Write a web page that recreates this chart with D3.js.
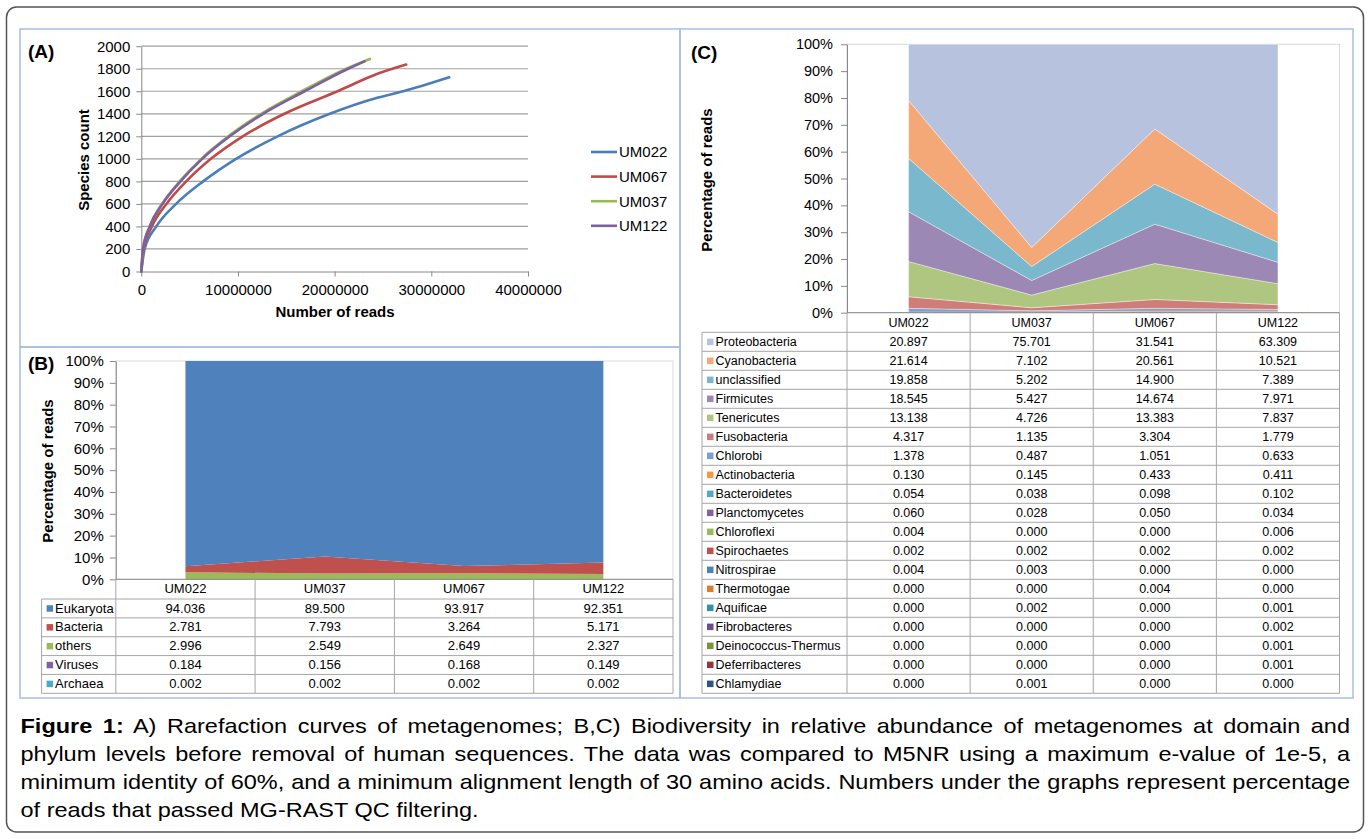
<!DOCTYPE html>
<html lang="en">
<head>
<meta charset="UTF-8">
<title>Figure 1</title>
<script src="https://cdn.jsdelivr.net/npm/d3@7"></script>
<style>
	body { margin: 0; background: #fff; }
	svg text { font-family: "Liberation Sans", Arial, sans-serif; fill: #000; }
	.axis path, .axis line { stroke: #888; }
	.axis text { fill: #000; }
</style>
</head>
<body>
<svg id="fig" width="1370" height="839"></svg>
<script>
// ---- panel A: rarefaction curves (reads, species count) ----
const rareSamples = ['UM022', 'UM067', 'UM037', 'UM122'];
const um022Reads = [0, 0.34e6, 1.55e6, 3.6e6, 6.4e6, 9.8e6, 14.1e6, 19.5e6, 24.5e6, 27.1e6, 31.85e6];
const um022Species = [0, 200, 400, 600, 800, 1000, 1200, 1400, 1544, 1600, 1724];
const um067Reads = [0, 0.24e6, 1.1e6, 2.6e6, 4.65e6, 7.2e6, 10.5e6, 14.8e6, 20.3e6, 24.5e6, 27.4e6];
const um067Species = [0, 200, 400, 600, 800, 1000, 1200, 1400, 1600, 1757, 1837];
const um037Reads = [0, 0.17e6, 0.86e6, 2.14e6, 3.97e6, 6.2e6, 9.0e6, 12.4e6, 16.6e6, 21.2e6, 23.65e6];
const um037Species = [0, 200, 400, 600, 800, 1000, 1200, 1400, 1600, 1800, 1887];
const um122Reads = [0, 0.18e6, 0.88e6, 2.2e6, 4.05e6, 6.3e6, 9.15e6, 12.6e6, 16.9e6, 21.4e6, 23.1e6];
const um122Species = [0, 200, 400, 600, 800, 1000, 1200, 1400, 1600, 1800, 1865];
const speciesTicks = [0, 200, 400, 600, 800, 1000, 1200, 1400, 1600, 1800, 2000];
const readTicks = [0, 10000000, 20000000, 30000000, 40000000];

// ---- panel B: domain level ----
const samples = ['UM022', 'UM037', 'UM067', 'UM122'];
const domains = ['Eukaryota', 'Bacteria', 'others', 'Viruses', 'Archaea'];
const eukaryota = [94.036, 89.500, 93.917, 92.351];
const bacteria = [2.781, 7.793, 3.264, 5.171];
const others = [2.996, 2.549, 2.649, 2.327];
const viruses = [0.184, 0.156, 0.168, 0.149];
const archaea = [0.002, 0.002, 0.002, 0.002];
const pctTicks = [0, 10, 20, 30, 40, 50, 60, 70, 80, 90, 100];

// ---- panel C: phylum level ----
const phyla = ['Proteobacteria', 'Cyanobacteria', 'unclassified', 'Firmicutes', 'Tenericutes',
	'Fusobacteria', 'Chlorobi', 'Actinobacteria', 'Bacteroidetes', 'Planctomycetes', 'Chloroflexi',
	'Spirochaetes', 'Nitrospirae', 'Thermotogae', 'Aquificae', 'Fibrobacteres',
	'Deinococcus-Thermus', 'Deferribacteres', 'Chlamydiae'];
const phylaUM022 = [20.897, 21.614, 19.858, 18.545, 13.138, 4.317, 1.378, 0.130, 0.054, 0.060, 0.004, 0.002, 0.004, 0.000, 0.000, 0.000, 0.000, 0.000, 0.000];
const phylaUM037 = [75.701, 7.102, 5.202, 5.427, 4.726, 1.135, 0.487, 0.145, 0.038, 0.028, 0.000, 0.002, 0.003, 0.000, 0.002, 0.000, 0.000, 0.000, 0.001];
const phylaUM067 = [31.541, 20.561, 14.900, 14.674, 13.383, 3.304, 1.051, 0.433, 0.098, 0.050, 0.000, 0.002, 0.000, 0.004, 0.000, 0.000, 0.000, 0.000, 0.000];
const phylaUM122 = [63.309, 10.521, 7.389, 7.971, 7.837, 1.779, 0.633, 0.411, 0.102, 0.034, 0.006, 0.002, 0.000, 0.000, 0.001, 0.002, 0.001, 0.001, 0.000];

const lineColors = ['#4a7ebb', '#be4b48', '#98b954', '#7d60a0'];
const domainColors = ['#4f81bd', '#c0504d', '#9bbb59', '#8064a2', '#4bacc6'];
const phylaArea = ['#b7c3de', '#f5a877', '#7ab8cd', '#9c88b4', '#afc680', '#d07c79', '#7c9fd1',
	'#f79646', '#4bacc6', '#8064a2', '#9bbb59', '#c0504d', '#4f81bd', '#e07c2c', '#2f94a8',
	'#6b4e8f', '#77933c', '#943634', '#2c5585'];

const svg = d3.select('#fig');
const grid = '#a0a0a0', tableLine = '#a6a6a6', frameBlue = '#a7bfdf';

// outer border and panel frames
svg.append('rect').attr('x', 6.5).attr('y', 7).attr('width', 1357).attr('height', 825)
	.attr('rx', 10).attr('fill', 'none').attr('stroke', '#555').attr('stroke-width', 1.5);
[[20, 29, 660, 318], [20, 347, 660, 351], [680, 29, 673, 669]].forEach(f => {
	svg.append('rect').attr('x', f[0]).attr('y', f[1]).attr('width', f[2]).attr('height', f[3])
		.attr('fill', 'none').attr('stroke', frameBlue).attr('stroke-width', 1.5);
});

function label(txt, x, y, size, weight) {
	return svg.append('text').attr('x', x).attr('y', y).style('font-size', size + 'px')
		.style('font-weight', weight || 'normal').text(txt);
}

// =========== A ===========
{
	const x = d3.scaleLinear().domain([0, 40000000]).range([141.3, 528]);
	const y = d3.scaleLinear().domain([0, 2000]).range([271.5, 46.2]);
	const g = svg.append('g');

	g.selectAll('.grid').data(speciesTicks.slice(1)).enter().append('line')
		.attr('x1', x(0)).attr('x2', x(40000000))
		.attr('y1', d => y(d)).attr('y2', d => y(d))
		.attr('stroke', grid).attr('stroke-width', 1.2);

	g.append('g').attr('class', 'axis').attr('transform', `translate(${x(0)},0)`)
		.call(d3.axisLeft(y).tickValues(speciesTicks).tickFormat(d3.format('d')).tickSize(5).tickSizeOuter(0).tickPadding(6));
	g.append('g').attr('class', 'axis').attr('transform', `translate(0,${y(0)})`)
		.call(d3.axisBottom(x).tickValues(readTicks).tickFormat(d3.format('d')).tickSize(5).tickSizeOuter(0).tickPadding(8));
	g.selectAll('.axis text').style('font-size', '15px');

	const series = [
		[um022Reads, um022Species], [um067Reads, um067Species],
		[um037Reads, um037Species], [um122Reads, um122Species]
	];
	const line = d3.line().x(d => x(d[0])).y(d => y(d[1])).curve(d3.curveMonotoneX);
	series.forEach((s, i) => {
		const pts = s[0].map((r, j) => [r, s[1][j]]);
		g.append('path').datum(pts).attr('d', line).attr('fill', 'none')
			.attr('stroke', lineColors[i]).attr('stroke-width', 2.6).attr('stroke-linecap', 'round');
	});

	// legend
	rareSamples.forEach((s, i) => {
		const ly = 152 + i * 24.6;
		g.append('line').attr('x1', 591).attr('x2', 617).attr('y1', ly).attr('y2', ly)
			.attr('stroke', lineColors[i]).attr('stroke-width', 2.6);
		g.append('text').attr('x', 619).attr('y', ly).attr('dy', '0.36em').style('font-size', '15px').text(s);
	});

	label('(A)', 28, 58, 19, 'bold');
	label('Species count', 0, 0, 15, 'bold').attr('text-anchor', 'middle')
		.attr('transform', 'translate(88.5,160) rotate(-90)');
	label('Number of reads', 335, 317, 15, 'bold').attr('text-anchor', 'middle');
}

// shared drawing for stacked area + data table
function stackPanel(opt) {
	const x = d3.scaleBand().domain(samples).range([opt.left, opt.right]);
	const y = d3.scaleLinear().domain([0, 100]).range([opt.bottom, opt.top]);
	const g = svg.append('g');
	// per-sample records for the stack
	const recs = samples.map((s, j) => {
		const o = { sample: s };
		opt.names.forEach((n, i) => { o[n] = opt.values[j][i]; });
		return o;
	});
	// first series on top, so stack from the end of the list
	const layers = d3.stack().keys(opt.names.slice().reverse())(recs);
	const cx = s => x(s) + x.bandwidth() / 2;
	const area = d3.area().x(d => cx(d.data.sample)).y0(d => y(d[0])).y1(d => y(d[1]));

	g.append('rect').attr('x', opt.left).attr('y', opt.top).attr('width', opt.right - opt.left)
		.attr('height', opt.bottom - opt.top).attr('fill', 'none').attr('stroke', '#d9d9d9');

	g.selectAll('.layer').data(layers).enter().append('path')
		.attr('d', area)
		.attr('fill', d => opt.colors[opt.names.indexOf(d.key)])
		.attr('stroke', d => opt.names.indexOf(d.key) < 7 && opt.thinEdge ? 'rgba(255,255,255,0.55)' : 'none')
		.attr('stroke-width', 0.7);

	const gy = g.append('g').attr('class', 'axis').attr('transform', `translate(${opt.left},0)`)
		.call(d3.axisLeft(y).tickValues(pctTicks).tickFormat(d => d + '%').tickSize(6).tickSizeOuter(0).tickPadding(opt.tickPad));
	gy.selectAll('text').style('font-size', opt.tickFont + 'px');

	// data table
	const rh = (opt.tableBottom - opt.headBottom) / opt.names.length;
	const tl = g.append('g').attr('stroke', tableLine).attr('stroke-width', 1);
	tl.append('line').attr('x1', opt.left).attr('x2', opt.right).attr('y1', opt.bottom).attr('y2', opt.bottom).attr('stroke', '#888');
	for (let i = 0; i <= samples.length; i++) {
		const xx = opt.left + i * x.bandwidth();
		tl.append('line').attr('x1', xx).attr('x2', xx).attr('y1', opt.bottom).attr('y2', opt.tableBottom);
	}
	tl.append('line').attr('x1', opt.legendLeft).attr('x2', opt.legendLeft).attr('y1', opt.headBottom).attr('y2', opt.tableBottom);
	for (let i = 0; i <= opt.names.length; i++) {
		const yy = opt.headBottom + i * rh;
		tl.append('line').attr('x1', opt.legendLeft).attr('x2', opt.right).attr('y1', yy).attr('y2', yy);
	}

	samples.forEach(s => {
		g.append('text').attr('x', cx(s)).attr('y', opt.headBaseline).attr('text-anchor', 'middle')
			.style('font-size', opt.tableFont + 'px').text(s);
	});
	opt.names.forEach((n, i) => {
		const my = opt.headBottom + i * rh + rh / 2;
		g.append('rect').attr('x', opt.legendLeft + 5).attr('y', my - 3.2).attr('width', 6.5).attr('height', 6.5)
			.attr('fill', opt.colors[i]);
		g.append('text').attr('x', opt.legendLeft + 13.5).attr('y', my + opt.textShift)
			.style('font-size', opt.tableFont + 'px').text(n);
		samples.forEach((s, j) => {
			g.append('text').attr('x', cx(s)).attr('y', my + opt.textShift).attr('text-anchor', 'middle')
				.style('font-size', opt.tableFont + 'px').text(d3.format('.3f')(opt.values[j][i]));
		});
	});
	return g;
}

// =========== B ===========
stackPanel({
	names: domains,
	values: samples.map((s, j) => [eukaryota[j], bacteria[j], others[j], viruses[j], archaea[j]]),
	colors: domainColors,
	left: 115.8, right: 673, top: 361, bottom: 579.3,
	headBottom: 599, tableBottom: 693.3, legendLeft: 41.6, headBaseline: 593,
	tableFont: 13, tickFont: 15, tickPad: 6, textShift: 4.2, thinEdge: false
});
label('(B)', 28, 370, 19, 'bold');
label('Percentage of reads', 0, 0, 15, 'bold').attr('text-anchor', 'middle')
	.attr('transform', 'translate(52.5,471) rotate(-90)');

// =========== C ===========
stackPanel({
	names: phyla,
	values: [phylaUM022, phylaUM037, phylaUM067, phylaUM122],
	colors: phylaArea,
	left: 847, right: 1339.5, top: 44.3, bottom: 312.7,
	headBottom: 332.3, tableBottom: 693.3, legendLeft: 702, headBaseline: 327,
	tableFont: 12.5, tickFont: 14.5, tickPad: 8, textShift: 4.2, thinEdge: true
});
label('(C)', 691, 59, 19, 'bold');
label('Percentage of reads', 0, 0, 15, 'bold').attr('text-anchor', 'middle')
	.attr('transform', 'translate(711.5,180) rotate(-90)');

// =========== caption ===========
const capLines = [
	['Figure 1:', ' A) Rarefaction curves of metagenomes; B,C) Biodiversity in relative abundance of metagenomes at domain and'],
	['', 'phylum levels before removal of human sequences. The data was compared to M5NR using a maximum e-value of 1e-5, a'],
	['', 'minimum identity of 60%, and a minimum alignment length of 30 amino acids. Numbers under the graphs represent percentage'],
	['', 'of reads that passed MG-RAST QC filtering.']
];
const capStretch = 1.12;
capLines.forEach((ln, i) => {
	const t = svg.append('text').attr('x', 0).attr('y', 0)
		.attr('transform', `translate(20.5,${733 + i * 28}) scale(${capStretch},1)`)
		.style('font-size', '21px');
	if (ln[0]) t.append('tspan').style('font-weight', 'bold').text(ln[0]);
	t.append('tspan').text(ln[1]);
	if (i < capLines.length - 1) {
		const w = t.node().getComputedTextLength();
		const spaces = (ln[0] + ln[1]).split(' ').length - 1;
		t.attr('word-spacing', (((1350 - 20.5) / capStretch - w) / spaces) + 'px');
	}
});
</script>
</body>
</html>
